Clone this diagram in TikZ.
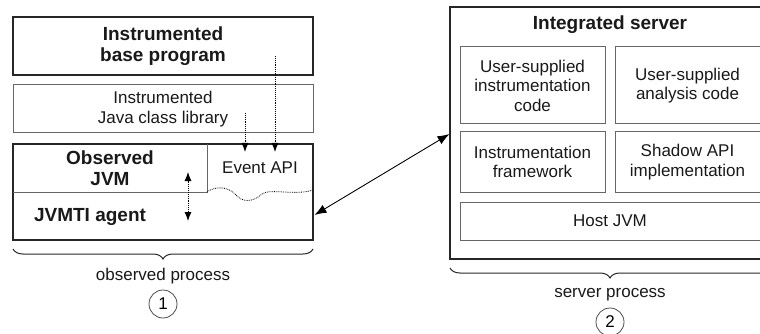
\documentclass[tikz,border=0pt]{standalone}
\usepackage{fontspec}
\setmainfont{Liberation Sans}
\usetikzlibrary{arrows.meta,decorations.pathreplacing,calc}
\begin{document}
\begin{tikzpicture}[x=1pt,y=-1pt,
  txt/.style={font=\fontsize{17}{19.5}\selectfont, align=center, inner sep=0pt, text=black!90},
  btxt/.style={font=\bfseries\fontsize{19}{21.5}\selectfont, align=center, inner sep=0pt, text=black!90},
  box/.style={draw=black!85, line width=1.1pt},
  gbox/.style={draw=black!60, line width=1pt},
  dotarrow/.style={densely dotted, line width=0.9pt, -{Latex[length=9pt,width=7pt]}},
  twohead/.style={line width=0.9pt, {Latex[length=12pt,width=9pt]}-{Latex[length=12pt,width=9pt]}},
  brc/.style={decorate, decoration={brace, amplitude=10pt, mirror}, line width=1pt, draw=black!85},
  numc/.style={draw=black!70, line width=0.8pt, circle, minimum size=28pt, inner sep=0pt, font=\fontsize{17}{19}\selectfont},
]
\useasboundingbox (0,0) rectangle (760,334);

% ---------- observed process ----------
\node[box, btxt, minimum width=300pt, minimum height=58pt] (base) at (163,46) {Instrumented\\base program};
\node[gbox, txt, minimum width=300pt, minimum height=48pt] (lib) at (163,109) {Instrumented\\Java class library};
\node[box, minimum width=300pt, minimum height=96pt] (obs) at (163,192) {};
\draw[gbox] (207,144) -- (207,192) -- (13,192);
\draw[densely dotted, line width=0.8pt] (207,192) .. controls (215,186) and (228,186) .. (236,195)
   .. controls (242,202) and (252,203) .. (262,194) .. controls (270,188) and (295,196) .. (313,190);
\node[btxt] (jvm) at (110,168) {Observed\\JVM};
\node[txt] (evt) at (260,168) {Event API};
\node[btxt] (agent) at (90,217) {JVMTI agent};

\coordinate (d1) at (188,172);
\coordinate (d2) at (188,221);
\draw[densely dotted, line width=0.9pt, {Latex[length=9pt,width=7pt]}-{Latex[length=9pt,width=7pt]}] (d1) -- (d2);

\coordinate (s1) at (245,113);
\coordinate (e1) at (245,152);
\coordinate (s2) at (275,56);
\coordinate (e2) at (275,152);
\draw[dotarrow] (s1) -- (e1);
\draw[dotarrow] (s2) -- (e2);

\coordinate (b1l) at (13,249);
\coordinate (b1r) at (313,249);
\draw[brc] (b1l) -- (b1r);
\node[txt] (op) at (163,276) {observed process};
\node[numc] (c1) at (163,304) {1};

% ---------- server process ----------
\node[box, minimum width=320pt, minimum height=252pt] (srv) at (610,133) {};
\node[btxt] (srvt) at (610,25) {Integrated server};
\node[gbox, txt, minimum width=145pt, minimum height=77pt] (uic) at (532.5,85.5) {User-supplied\\instrumentation\\code};
\node[gbox, txt, minimum width=145pt, minimum height=77pt] (uac) at (687.5,85.5) {User-supplied\\analysis code};
\node[gbox, txt, minimum width=145pt, minimum height=60pt] (ifw) at (532.5,162) {Instrumentation\\framework};
\node[gbox, txt, minimum width=145pt, minimum height=60pt] (sapi) at (687.5,162) {Shadow API\\implementation};
\node[gbox, txt, minimum width=300pt, minimum height=38pt] (host) at (610,221) {Host JVM};

\coordinate (b2l) at (450,268);
\coordinate (b2r) at (770,268);
\draw[brc] (b2l) -- (b2r);
\node[txt] (sp) at (610,295) {server process};
\node[numc] (c2) at (610,322) {2};

% ---------- connection ----------
\coordinate (p1) at (314.5,215);
\coordinate (p2) at (449.5,134);
\draw[twohead] (p1) -- (p2);
\end{tikzpicture}
\end{document}
